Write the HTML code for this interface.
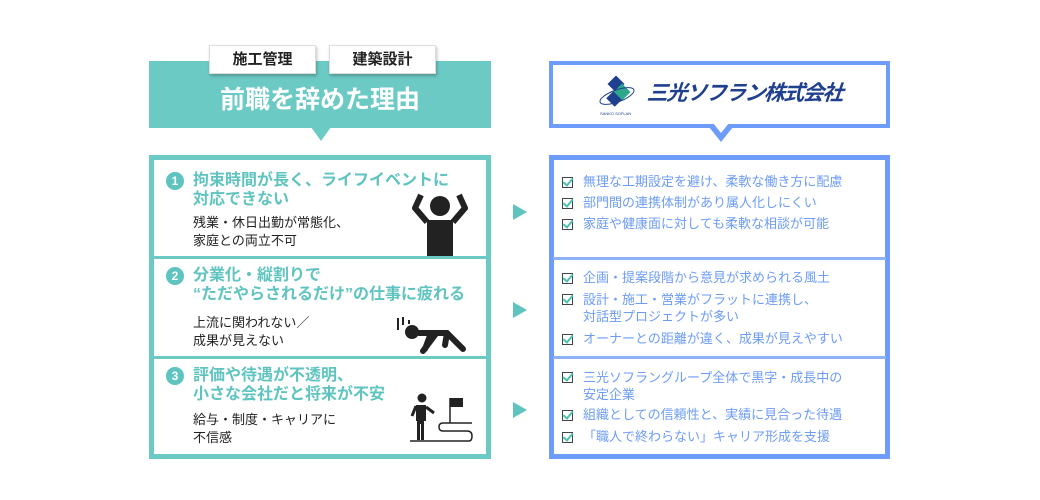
<!DOCTYPE html>
<html><head><meta charset="utf-8"><style>
*{margin:0;padding:0;box-sizing:border-box}
body{width:1040px;height:500px;background:#fff;position:relative;overflow:hidden;font-family:"Liberation Sans","Noto Sans CJK JP",sans-serif}
.a{position:absolute}
.t{color:#5fc4bf;font-weight:bold;font-size:16px;line-height:19px;white-space:nowrap}
.b{color:#222;font-size:13px;line-height:18px;white-space:nowrap}
.n{width:18px;height:18px;border-radius:50%;background:#5fc4bf;color:#fff;font-size:12px;font-weight:bold;text-align:center;line-height:18px}
.r{color:#6d9cf5;font-size:13px;line-height:16px;white-space:nowrap}
.c{width:11px;height:11px;border:1.5px solid #444;background:#fff}
.c:after{content:"";position:absolute;left:2px;top:-2px;width:4px;height:8px;border:solid #4cc0b0;border-width:0 2px 2px 0;transform:rotate(40deg)}
.tab{background:#fff;border:1px solid #ddd;box-shadow:1px 2px 3px rgba(0,0,0,.25);font-size:15px;font-weight:bold;text-align:center;line-height:28px;color:#222}
</style></head><body>
<div class="a" style="left:149px;top:61px;width:342px;height:67px;background:#6ccac5"></div>
<div class="a" style="left:311px;top:127px;width:0;height:0;border-left:10px solid transparent;border-right:10px solid transparent;border-top:14px solid #6ccac5"></div>
<div class="a tab" style="left:209px;top:45px;width:107px;height:29px">施工管理</div>
<div class="a tab" style="left:329px;top:45px;width:107px;height:29px">建築設計</div>
<div class="a" style="left:149px;top:84px;width:342px;text-align:center;color:#fff;font-size:25px;font-weight:bold;line-height:32px">前職を辞めた理由</div>
<div class="a" style="left:149px;top:155px;width:342px;height:304px;border:5px solid #6ccac5"></div>
<div class="a" style="left:153px;top:256px;width:334px;height:3px;background:#6ccac5"></div>
<div class="a" style="left:153px;top:356px;width:334px;height:3px;background:#6ccac5"></div>

<div class="a n" style="left:166px;top:172px">1</div>
<div class="a t" style="left:193px;top:171px">拘束時間が長く、ライフイベントに<br>対応できない</div>
<div class="a b" style="left:193px;top:214px">残業・休日出勤が常態化、<br>家庭との両立不可</div>
<div class="a n" style="left:166px;top:267px">2</div>
<div class="a t" style="left:193px;top:266px">分業化・縦割りで<br>“ただやらされるだけ”の仕事に疲れる</div>
<div class="a b" style="left:193px;top:314px">上流に関われない／<br>成果が見えない</div>
<div class="a n" style="left:166px;top:367px">3</div>
<div class="a t" style="left:193px;top:366px">評価や待遇が不透明、<br>小さな会社だと将来が不安</div>
<div class="a b" style="left:193px;top:411px">給与・制度・キャリアに<br>不信感</div>

<svg class="a" style="left:405px;top:190px" width="70" height="66" viewBox="0 0 70 66">
<circle cx="35" cy="16" r="10" fill="#222"/>
<path d="M22 30 L48 30 L48 66 L22 66Z" fill="#222"/>
<path d="M22 32 L10 18 L16 5" stroke="#222" stroke-width="6" fill="none" stroke-linejoin="round"/>
<path d="M48 32 L60 18 L54 5" stroke="#222" stroke-width="6" fill="none" stroke-linejoin="round"/>
</svg>
<svg class="a" style="left:395px;top:315px" width="75" height="40" viewBox="0 0 75 40">
<path d="M3 3 v12 M8 2 v8 M14 5 v4" stroke="#222" stroke-width="2"/>
<circle cx="17" cy="17" r="7" fill="#222"/>
<path d="M24 18 L52 18 L68 34 M36 18 L30 34 M40 20 L28 36 M52 18 L50 30" stroke="#222" stroke-width="6" fill="none" stroke-linecap="round"/>
</svg>
<svg class="a" style="left:407px;top:392px" width="70" height="56" viewBox="0 0 70 56">
<circle cx="15" cy="6" r="4.5" fill="#222"/>
<path d="M9 13 h10 v16 h-2 v19 h-3 v-16 h-1 v16 h-3 v-19 h-1z" fill="#222"/>
<path d="M19 15 L27 21 M9 14 L5 24" stroke="#222" stroke-width="3"/>
<path d="M3 49 H62 Q65 49 65 44 Q65 39 60 39 H36 Q32 39 32 35 Q32 31 36 31 H65" stroke="#222" stroke-width="1.5" fill="none"/>
<path d="M43 31 V6" stroke="#222" stroke-width="1.5"/>
<rect x="43" y="6" width="13" height="9" fill="#222"/>
</svg>

<div class="a" style="left:513px;top:204px;border-top:8px solid transparent;border-bottom:8px solid transparent;border-left:14px solid #5fc4bf"></div>
<div class="a" style="left:513px;top:302px;border-top:8px solid transparent;border-bottom:8px solid transparent;border-left:14px solid #5fc4bf"></div>
<div class="a" style="left:513px;top:402px;border-top:8px solid transparent;border-bottom:8px solid transparent;border-left:14px solid #5fc4bf"></div>

<div class="a" style="left:549px;top:61px;width:341px;height:67px;border:4px solid #6d9cfb;background:#fff"></div>
<div class="a" style="left:709px;top:127px;border-left:12px solid transparent;border-right:12px solid transparent;border-top:15px solid #6d9cfb"></div>
<div class="a" style="left:713px;top:123px;border-left:8px solid transparent;border-right:8px solid transparent;border-top:10px solid #fff"></div>
<svg class="a" style="left:598px;top:76px" width="40" height="40" viewBox="0 0 40 40">
<rect x="12" y="2" width="12" height="12" fill="#1f3f8f" transform="rotate(45 18 8)"/>
<rect x="18" y="10" width="12" height="12" fill="#2ea78a" transform="rotate(45 24 16)"/>
<rect x="10" y="18" width="12" height="10" fill="#1f3f8f" transform="rotate(45 16 23)"/>
<ellipse cx="19" cy="20" rx="18" ry="6" fill="none" stroke="#1f3f8f" stroke-width="1" transform="rotate(-20 19 20)"/>
<text x="2" y="39" font-size="4" fill="#1f3f8f">SANKO SOFLAN</text>
</svg>
<div class="a" style="left:647px;top:81px;color:#1f3f8f;font-size:21px;font-weight:bold;font-style:italic;line-height:26px;white-space:nowrap;letter-spacing:-1.5px;transform:skewX(-5deg)">三光ソフラン株式会社</div>
<div class="a" style="left:549px;top:155px;width:341px;height:304px;border:5px solid #6d9cfb"></div>
<div class="a" style="left:553px;top:257px;width:333px;height:3px;background:#8fb3fb"></div>
<div class="a" style="left:553px;top:356px;width:333px;height:3px;background:#8fb3fb"></div>

<div class="a c" style="left:562px;top:177px"></div><div class="a r" style="left:583px;top:174px">無理な工期設定を避け、柔軟な働き方に配慮</div>
<div class="a c" style="left:562px;top:198px"></div><div class="a r" style="left:583px;top:195px">部門間の連携体制があり属人化しにくい</div>
<div class="a c" style="left:562px;top:219px"></div><div class="a r" style="left:583px;top:216px">家庭や健康面に対しても柔軟な相談が可能</div>

<div class="a c" style="left:562px;top:273px"></div><div class="a r" style="left:583px;top:270px">企画・提案段階から意見が求められる風土</div>
<div class="a c" style="left:562px;top:294px"></div><div class="a r" style="left:583px;top:291px;line-height:17px">設計・施工・営業がフラットに連携し、<br>対話型プロジェクトが多い</div>
<div class="a c" style="left:562px;top:334px"></div><div class="a r" style="left:583px;top:331px">オーナーとの距離が違く、成果が見えやすい</div>

<div class="a c" style="left:562px;top:372px"></div><div class="a r" style="left:583px;top:369px;line-height:17px">三光ソフラングループ全体で黒字・成長中の<br>安定企業</div>
<div class="a c" style="left:562px;top:410px"></div><div class="a r" style="left:583px;top:407px">組織としての信頼性と、実績に見合った待遇</div>
<div class="a c" style="left:562px;top:432px"></div><div class="a r" style="left:583px;top:429px">「職人で終わらない」キャリア形成を支援</div>
</body></html>
